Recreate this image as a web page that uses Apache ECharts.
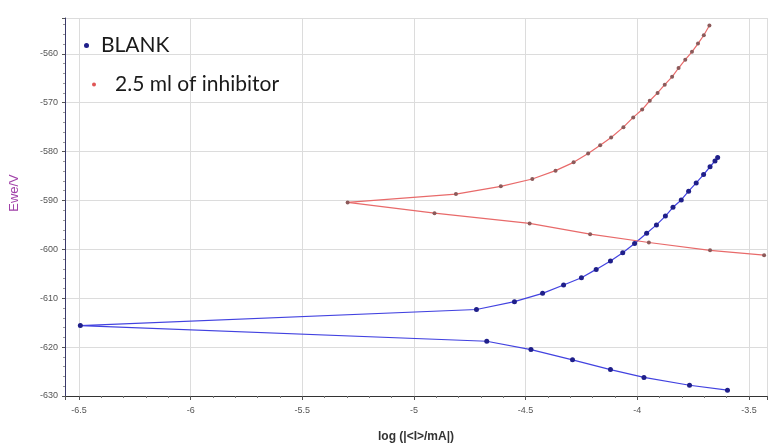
<!DOCTYPE html>
<html>
<head>
<meta charset="utf-8">
<script src="https://cdn.jsdelivr.net/npm/echarts@6/dist/echarts.min.js"></script>
<style>html,body{margin:0;padding:0;background:#fff}#c{width:769px;height:448px}</style>
</head>
<body>
<div id="c"></div>
<script>
// BLANK: cathodic branch (high current -> corrosion point), then anodic branch
var blankX = [-3.596, -3.766, -3.970, -4.120, -4.290, -4.476, -4.674, -6.494,
  -4.720, -4.550, -4.424, -4.330, -4.250, -4.184, -4.120, -4.065, -4.012, -3.958,
  -3.914, -3.874, -3.840, -3.803, -3.770, -3.736, -3.703, -3.674, -3.652, -3.640];
var blankY = [-628.8, -627.8, -626.2, -624.6, -622.6, -620.5, -618.8, -615.6,
  -612.3, -610.7, -609.0, -607.3, -605.8, -604.1, -602.4, -600.7, -598.8, -596.7,
  -595.0, -593.2, -591.4, -589.9, -588.1, -586.4, -584.7, -583.1, -581.9, -581.2];
// 2.5 ml of inhibitor
var inhX = [-3.432, -3.674, -3.948, -4.211, -4.482, -4.908, -5.297,
  -4.812, -4.611, -4.470, -4.366, -4.285, -4.220, -4.166, -4.117, -4.062, -4.018,
  -3.978, -3.944, -3.909, -3.877, -3.844, -3.815, -3.785, -3.755, -3.728, -3.702, -3.677];
var inhY = [-601.2, -600.2, -598.6, -596.9, -594.7, -592.6, -590.4,
  -588.7, -587.1, -585.6, -583.9, -582.2, -580.4, -578.7, -577.1, -575.0, -573.0,
  -571.4, -569.6, -568.0, -566.3, -564.7, -562.9, -561.2, -559.6, -557.9, -556.2, -554.2];
var seriesNames = ['BLANK', '2.5 ml of inhibitor'];
var xTicks = [-6.5, -6, -5.5, -5, -4.5, -4, -3.5];
var yTicks = [-630, -620, -610, -600, -590, -580, -570, -560];

function pairs(xs, ys) { return xs.map(function (x, i) { return [x, ys[i]]; }); }
function near(list, v) { for (var i = 0; i < list.length; i++) { if (Math.abs(list[i] - v) < 1e-6) return true; } return false; }

var chart = echarts.init(document.getElementById('c'), null, {renderer: 'canvas'});
chart.setOption({
  animation: false,
  backgroundColor: '#fff',
  grid: {left: 65, right: 2, top: 18, bottom: 50, containLabel: false},
  legend: [{
    data: [{name: seriesNames[0], itemStyle: {color: '#1f1f8a'}}],
    left: 79, top: 30, orient: 'vertical',
    icon: 'circle', itemWidth: 5, itemHeight: 5, itemGap: 10,
    textStyle: {fontFamily: 'Lato', fontSize: 21, color: '#1a1a1a', padding: [0, 0, 0, 7]}
  }, {
    data: [{name: seriesNames[1], itemStyle: {color: '#e05555'}}],
    left: 87, top: 69, orient: 'vertical',
    icon: 'circle', itemWidth: 4, itemHeight: 4, itemGap: 10,
    textStyle: {fontFamily: 'Lato', fontSize: 21, color: '#1a1a1a', padding: [0, 0, 0, 14]}
  }],
  xAxis: {
    type: 'value', min: -6.5627, max: -3.419, minInterval: 0.5, maxInterval: 0.5, splitNumber: 6,
    name: 'log (|<I>/mA|)', nameLocation: 'middle', nameGap: 35,
    nameTextStyle: {fontFamily: 'Arial', fontSize: 12, fontWeight: 'bold', color: '#333'},
    axisLine: {show: true, onZero: false, lineStyle: {color: '#333', width: 1}},
    axisTick: {show: true, length: 4, lineStyle: {color: '#555'}},
    minorTick: {show: true, splitNumber: 5, length: 2, lineStyle: {color: '#777'}},
    axisLabel: {showMinLabel: false, showMaxLabel: false, fontSize: 9, color: '#555', margin: 10,
      formatter: function (v) { return near(xTicks, v) ? String(v) : ''; }},
    splitLine: {show: true, lineStyle: {color: '#dcdcdc', width: 1}}
  },
  yAxis: {
    type: 'value', min: -630, max: -552.67, interval: 10,
    axisLine: {show: true, onZero: false, lineStyle: {color: '#3a3a6a', width: 1}},
    axisTick: {show: true, length: 3, lineStyle: {color: '#555'}},
    minorTick: {show: true, splitNumber: 5, length: 2, lineStyle: {color: '#999'}},
    axisLabel: {showMinLabel: true, showMaxLabel: false, fontSize: 9, color: '#555', margin: 7,
      formatter: function (v) { return near(yTicks, v) ? String(v) : ''; }},
    splitLine: {show: true, lineStyle: {color: '#dcdcdc', width: 1}}
  },
  graphic: [{
    type: 'text', x: 14, y: 193, rotation: Math.PI / 2,
    style: {text: 'Ewe/V', fill: '#a040a8', font: '13px Arial', textAlign: 'center', textVerticalAlign: 'middle'}
  }],
  series: [{
    name: seriesNames[0], type: 'line', data: pairs(blankX, blankY),
    symbol: 'circle', symbolSize: 5, showSymbol: true, clip: false,
    lineStyle: {color: '#4242e0', width: 1.2},
    itemStyle: {color: '#1f1f8a'}
  }, {
    name: seriesNames[1], type: 'line', data: pairs(inhX, inhY),
    symbol: 'circle', symbolSize: 4, showSymbol: true, clip: false,
    lineStyle: {color: '#e86a6a', width: 1.2},
    itemStyle: {color: '#8c5a5a'}
  }]
});
</script>
</body>
</html>
